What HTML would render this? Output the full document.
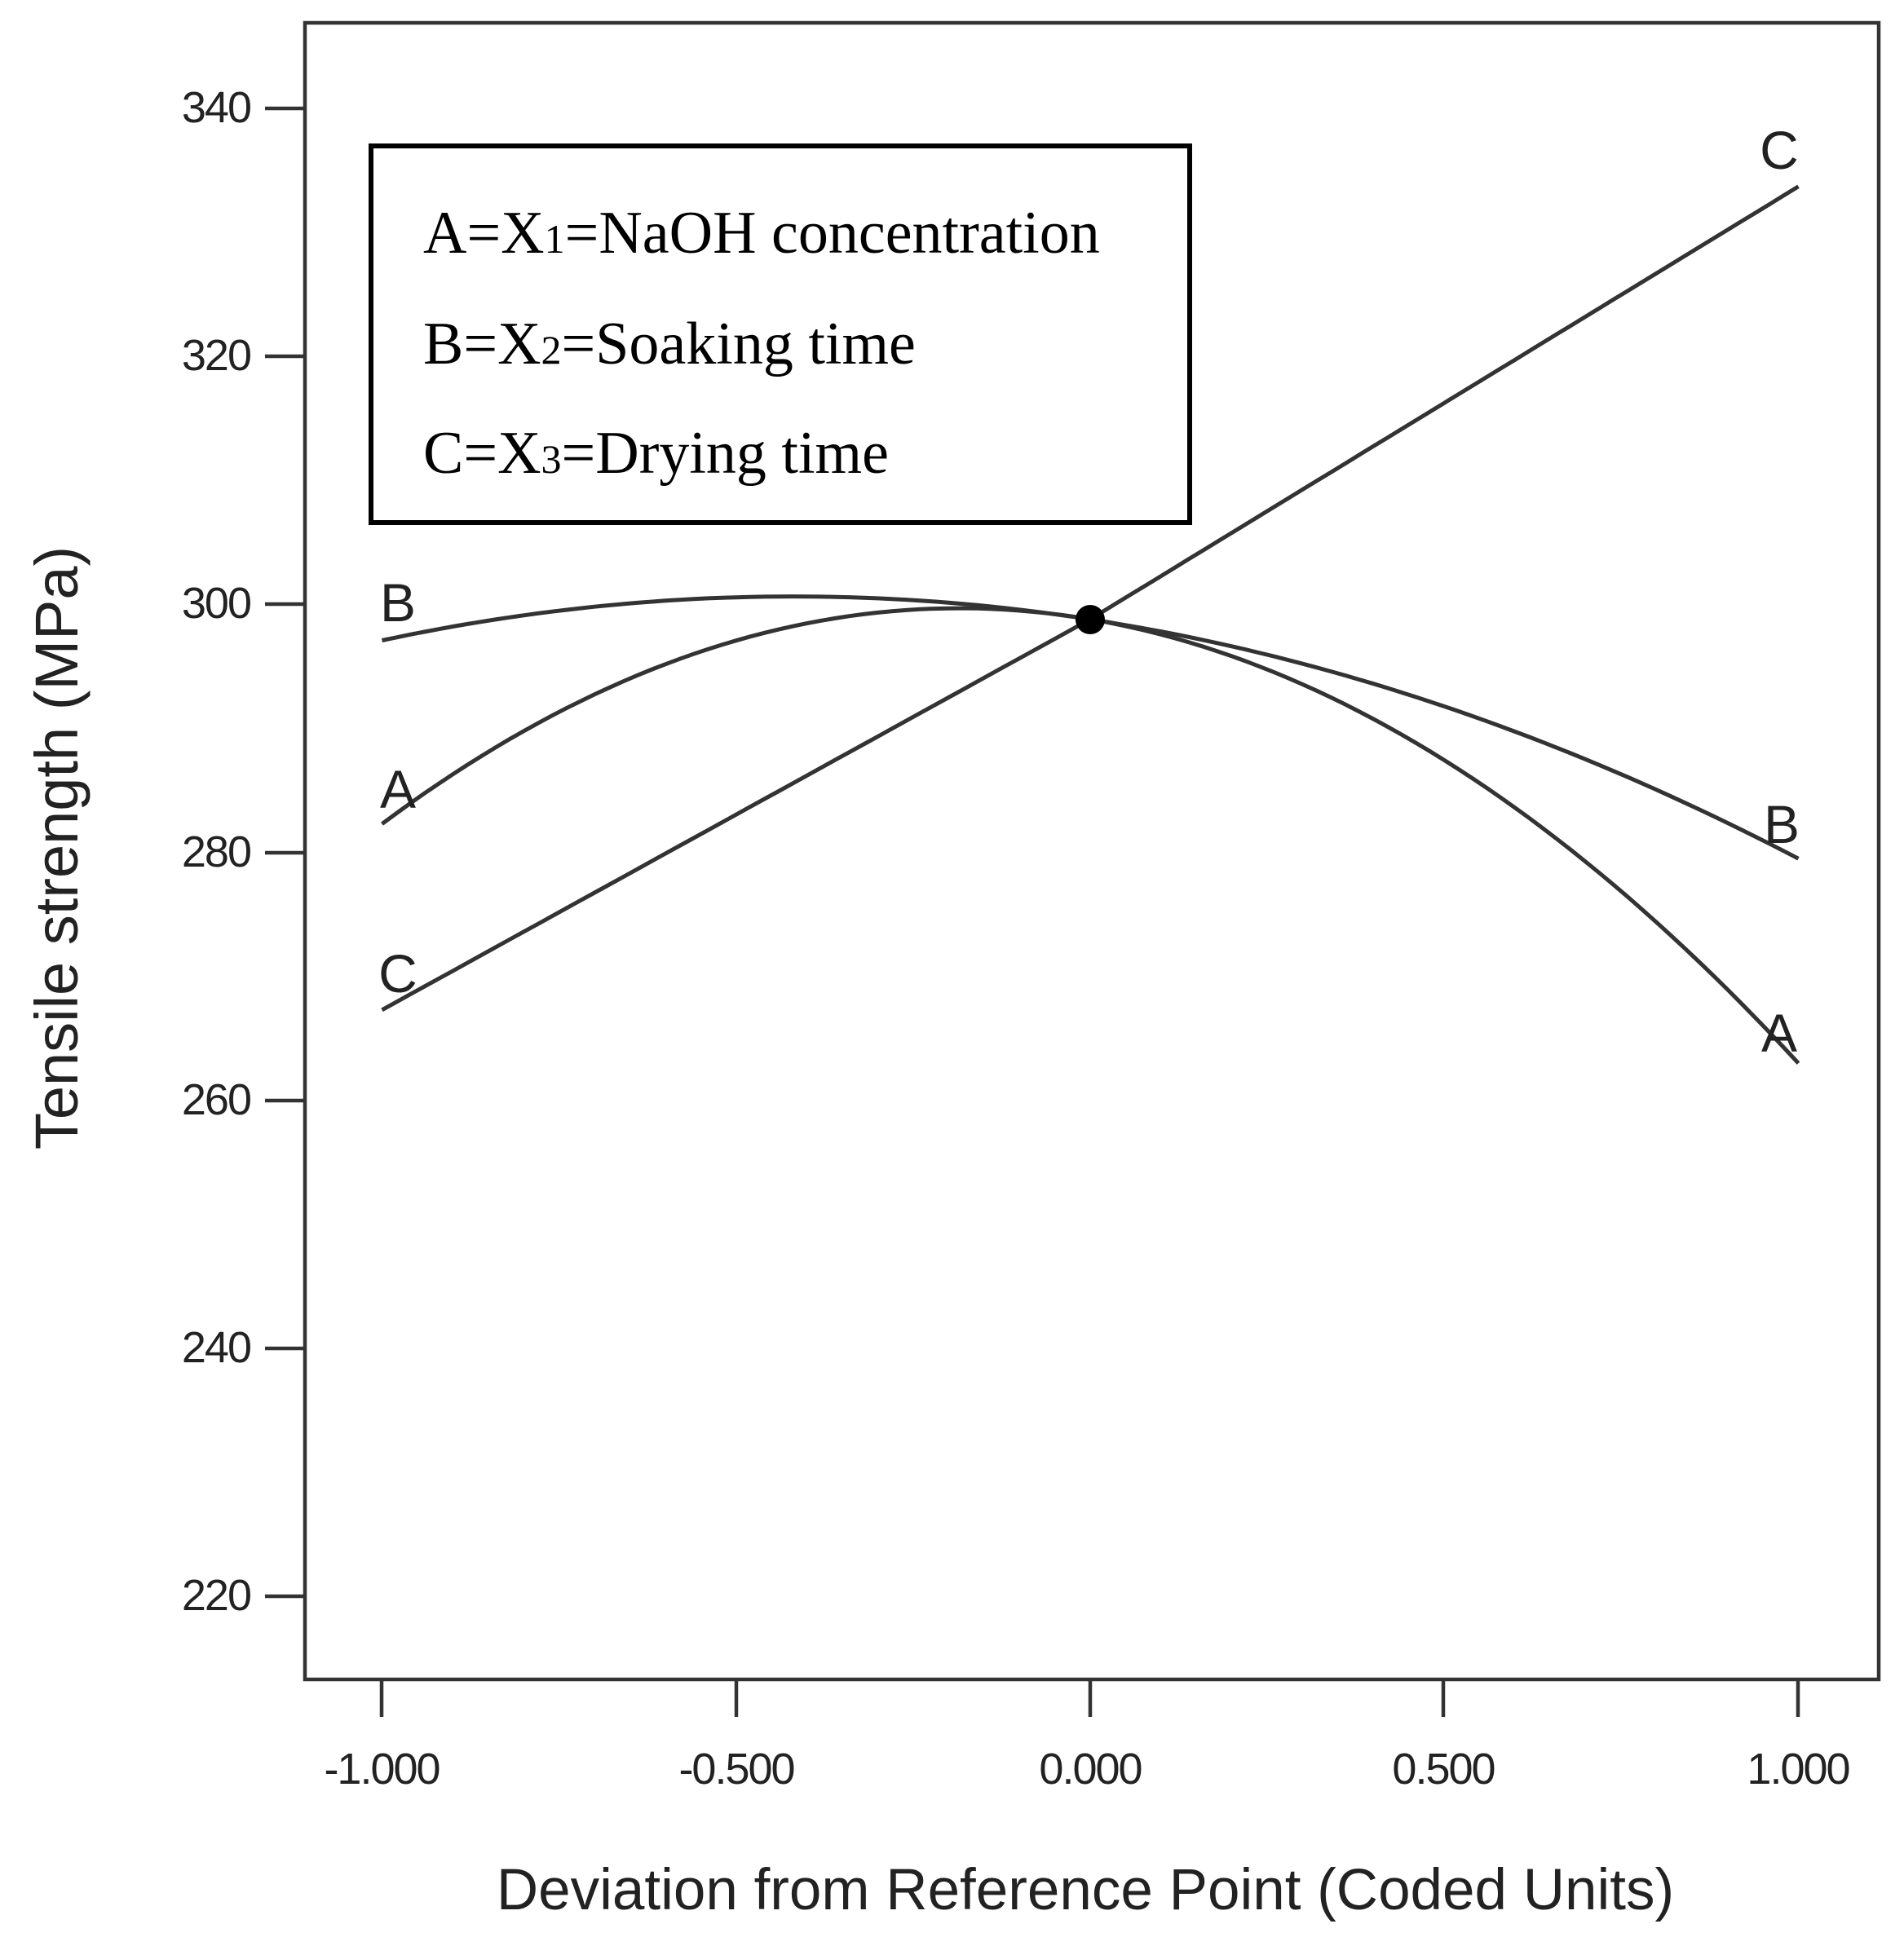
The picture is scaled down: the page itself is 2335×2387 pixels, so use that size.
<!DOCTYPE html>
<html><head><meta charset="utf-8"><style>
html,body{margin:0;padding:0;background:#fff;}
svg{display:block;}
</style></head><body>
<svg id="s" width="2335" height="2387" viewBox="0 0 2335 2387" xmlns="http://www.w3.org/2000/svg">
<rect x="374" y="28" width="1930" height="2032" fill="none" stroke="#333" stroke-width="4.5"/>
<g stroke="#333" stroke-width="4.5">
<line x1="325" y1="133" x2="374" y2="133"/>
<line x1="325" y1="437" x2="374" y2="437"/>
<line x1="325" y1="741" x2="374" y2="741"/>
<line x1="325" y1="1046" x2="374" y2="1046"/>
<line x1="325" y1="1350" x2="374" y2="1350"/>
<line x1="325" y1="1654" x2="374" y2="1654"/>
<line x1="325" y1="1958" x2="374" y2="1958"/>
<line x1="468" y1="2060" x2="468" y2="2106"/>
<line x1="903" y1="2060" x2="903" y2="2106"/>
<line x1="1337" y1="2060" x2="1337" y2="2106"/>
<line x1="1770" y1="2060" x2="1770" y2="2106"/>
<line x1="2205" y1="2060" x2="2205" y2="2106"/>
</g>
<g font-family="Liberation Sans, DejaVu Sans, sans-serif" font-size="54" fill="#222" text-anchor="end" letter-spacing="-2">
<text x="307" y="150">340</text>
<text x="307" y="454">320</text>
<text x="307" y="758">300</text>
<text x="307" y="1063">280</text>
<text x="307" y="1367">260</text>
<text x="307" y="1671">240</text>
<text x="307" y="1975">220</text>
</g>
<g font-family="Liberation Sans, DejaVu Sans, sans-serif" font-size="54" fill="#222" text-anchor="middle" letter-spacing="-2">
<text x="468" y="2188">-1.000</text>
<text x="903" y="2188">-0.500</text>
<text x="1337" y="2188">0.000</text>
<text x="1770" y="2188">0.500</text>
<text x="2205" y="2188">1.000</text>
</g>
<g font-family="Liberation Sans, DejaVu Sans, sans-serif" fill="#222" text-anchor="middle">
<text x="1331" y="2342" font-size="71">Deviation from Reference Point (Coded Units)</text>
<text transform="translate(95,1040) rotate(-90)" font-size="74">Tensile strength (MPa)</text>
</g>
<g fill="none" stroke="#333" stroke-width="5">
<path id="pA"/><path id="pB"/><path id="pC"/>
</g>
<circle cx="1337" cy="760" r="18" fill="#000"/>
<g font-family="Liberation Sans, DejaVu Sans, sans-serif" font-size="66" fill="#222" text-anchor="middle">
<text x="488" y="762">B</text>
<text x="488" y="991">A</text>
<text x="488" y="1217">C</text>
<text x="2182" y="207">C</text>
<text x="2185" y="1034">B</text>
<text x="2182" y="1290">A</text>
</g>
<rect x="455" y="179" width="1004" height="462" fill="#fff" stroke="#000" stroke-width="6"/>
<g font-family="Liberation Serif, serif" font-size="74" fill="#000">
<text x="519" y="310">A=X<tspan font-size="50">1</tspan>=NaOH concentration</text>
<text x="519" y="446">B=X<tspan font-size="50">2</tspan>=Soaking time</text>
<text x="519" y="580">C=X<tspan font-size="50">3</tspan>=Drying time</text>
</g>
</svg>
<script>
function X(x){return 1337+868.5*x;}
function Y(v){return 133+(340-v)*15.21;}
function mk(id,f){var d="";for(var i=0;i<=100;i++){var x=-1+i/50;d+=(i?"L":"M")+X(x).toFixed(1)+","+Y(f(x)).toFixed(1);}document.getElementById(id).setAttribute("d",d);}
mk("pA",function(x){return 298.8-9.65*x-26.15*x*x;});
mk("pB",function(x){return 298.8-8.8*x-10.5*x*x;});
mk("pC",function(x){return x<0?298.8+31.5*x:298.8+34.9*x;});
</script>
</body></html>
